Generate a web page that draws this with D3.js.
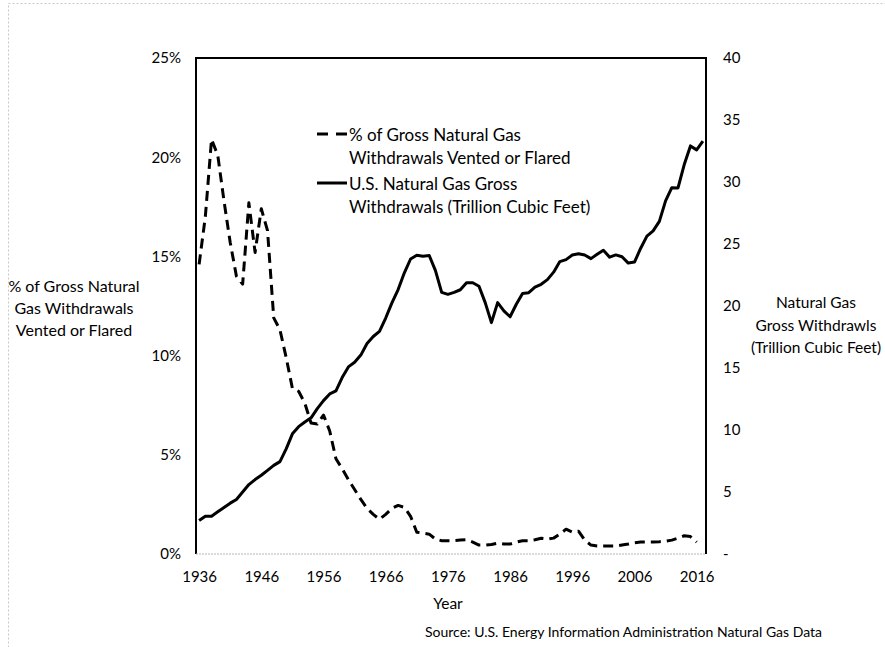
<!DOCTYPE html>
<html><head><meta charset="utf-8">
<script src="https://cdn.jsdelivr.net/npm/d3@7"></script>
<style>
html,body{margin:0;padding:0;background:#fff;}
svg{display:block;font-family:Lato,"Open Sans",sans-serif;}
</style></head>
<body>
<svg id="chart" width="885" height="647"></svg>
<script>
const years = [1936,1937,1938,1939,1940,1941,1942,1943,1944,1945,1946,1947,1948,1949,
1950,1951,1952,1953,1954,1955,1956,1957,1958,1959,1960,1961,1962,1963,1964,1965,
1966,1967,1968,1969,1970,1971,1972,1973,1974,1975,1976,1977,1978,1979,1980,1981,
1982,1983,1984,1985,1986,1987,1988,1989,1990,1991,1992,1993,1994,1995,1996,1997,
1998,1999,2000,2001,2002,2003,2004,2005,2006,2007,2008,2009,2010,2011,2012,2013,
2014,2015,2016,2017];

// % of gross withdrawals vented or flared (1936-2016)
const ventedPct = [14.6,17.0,20.9,20.1,17.8,15.7,14.0,13.6,17.7,15.2,17.4,16.3,11.9,11.3,
9.9,8.35,8.2,7.6,6.6,6.55,7.0,6.2,4.8,4.3,3.75,3.25,2.75,2.3,2.0,1.75,
2.0,2.3,2.45,2.35,1.9,1.1,1.05,1.0,0.75,0.67,0.67,0.67,0.7,0.72,0.6,0.45,
0.45,0.48,0.54,0.5,0.5,0.6,0.67,0.67,0.72,0.79,0.75,0.8,1.0,1.25,1.1,1.15,
0.7,0.45,0.4,0.4,0.4,0.4,0.45,0.5,0.57,0.6,0.6,0.6,0.62,0.65,0.7,0.8,
0.92,0.88,0.6,null];

// U.S. natural gas gross withdrawals, trillion cubic feet (1936-2017)
const withdrawals = [2.7,3.05,3.05,3.4,3.75,4.1,4.4,5.0,5.6,6.0,6.35,6.75,7.15,7.45,
8.48,9.69,10.27,10.65,10.98,11.72,12.37,12.91,13.15,14.23,15.09,15.46,16.04,16.97,17.54,17.96,
19.03,20.25,21.33,22.68,23.79,24.09,24.02,24.07,22.85,21.10,20.94,21.10,21.31,21.88,21.87,21.59,
20.27,18.66,20.27,19.61,19.13,20.14,21.0,21.07,21.52,21.75,22.13,22.73,23.58,23.74,24.11,24.21,
24.11,23.82,24.17,24.50,23.94,24.12,23.97,23.46,23.54,24.66,25.64,26.06,26.82,28.48,29.54,29.52,
31.41,32.91,32.59,33.29];

const xTickYears = [1936,1946,1956,1966,1976,1986,1996,2006,2016];
const leftTicks = [0,5,10,15,20,25];
const rightTicks = [0,5,10,15,20,25,30,35,40];

const svg = d3.select("#chart");
const L = 196, R = 706, T = 58, B = 554;

// outer faint chart-area border
svg.append("rect").attr("x",8.5).attr("y",3.5).attr("width",900).attr("height",700)
  .attr("fill","none").attr("stroke","#c8c8c8").attr("stroke-dasharray","2,2");

const x = d3.scalePoint().domain(years).range([L, R]).padding(0.5);
const yL = d3.scaleLinear().domain([0,25]).range([B, T]);
const yR = d3.scaleLinear().domain([0,40]).range([B, T]);

// plot frame: left, top, right black; bottom light dotted
svg.append("path").attr("d",`M${L},${B}V${T}H${R}V${B}`)
  .attr("fill","none").attr("stroke","#000").attr("stroke-width",2);
svg.append("line").attr("x1",L).attr("x2",R).attr("y1",B).attr("y2",B)
  .attr("stroke","#b5b5b5").attr("stroke-width",1).attr("stroke-dasharray","2,1");

// left axis
const axL = svg.append("g").attr("transform",`translate(${L},0)`)
  .call(d3.axisLeft(yL).tickValues(leftTicks).tickFormat(d=>d+"%").tickSize(0).tickPadding(15));
// right axis
const axR = svg.append("g").attr("transform",`translate(${R},0)`)
  .call(d3.axisRight(yR).tickValues(rightTicks).tickFormat(d=>d===0?"-":d).tickSize(0).tickPadding(17));
// bottom axis
const axB = svg.append("g").attr("transform",`translate(0,${B})`)
  .call(d3.axisBottom(x).tickValues(xTickYears).tickSize(0).tickPadding(17));
[axL,axR,axB].forEach(a=>{
  a.select(".domain").remove();
  a.selectAll("text").attr("font-family","Lato,'Open Sans',sans-serif").attr("font-size",15).attr("fill","#000");
});

// lines
const lineW = d3.line().x((d,i)=>x(years[i])).y(d=>yR(d)).defined(d=>d!=null);
const lineV = d3.line().x((d,i)=>x(years[i])).y(d=>yL(d)).defined(d=>d!=null);
svg.append("path").datum(withdrawals).attr("d",lineW)
  .attr("fill","none").attr("stroke","#000").attr("stroke-width",3).attr("stroke-linejoin","round");
svg.append("path").datum(ventedPct).attr("d",lineV)
  .attr("fill","none").attr("stroke","#000").attr("stroke-width",3).attr("stroke-linejoin","round")
  .attr("stroke-dasharray","10,6");

// axis titles
const txt = (xx,yy,s,size,anchor)=>svg.append("text").attr("x",xx).attr("y",yy)
  .attr("text-anchor",anchor||"middle").attr("dominant-baseline","central")
  .attr("font-size",size||15).attr("fill","#000").text(s);
txt(74,285,"% of Gross Natural",16);
txt(74,307,"Gas Withdrawals",16);
txt(74,329,"Vented or Flared",16);
txt(816,302,"Natural Gas",15.5);
txt(816,325,"Gross Withdrawls",15.5);
txt(816,347,"(Trillion Cubic Feet)",15.5);
txt(448,603,"Year",15.5);
txt(425,631,"Source: U.S. Energy Information Administration  Natural Gas Data",14,"start");

// legend
const lg = svg.append("g");
lg.append("line").attr("x1",317).attr("x2",347).attr("y1",134).attr("y2",134)
  .attr("stroke","#000").attr("stroke-width",3).attr("stroke-dasharray","11,8");
lg.append("line").attr("x1",317).attr("x2",347).attr("y1",183).attr("y2",183)
  .attr("stroke","#000").attr("stroke-width",3);
txt(349,134,"% of Gross Natural Gas",17,"start");
txt(349,157,"Withdrawals Vented or Flared",17,"start");
txt(349,183,"U.S. Natural Gas Gross",17,"start");
txt(349,206,"Withdrawals (Trillion Cubic Feet)",17,"start");
</script>
</body></html>
